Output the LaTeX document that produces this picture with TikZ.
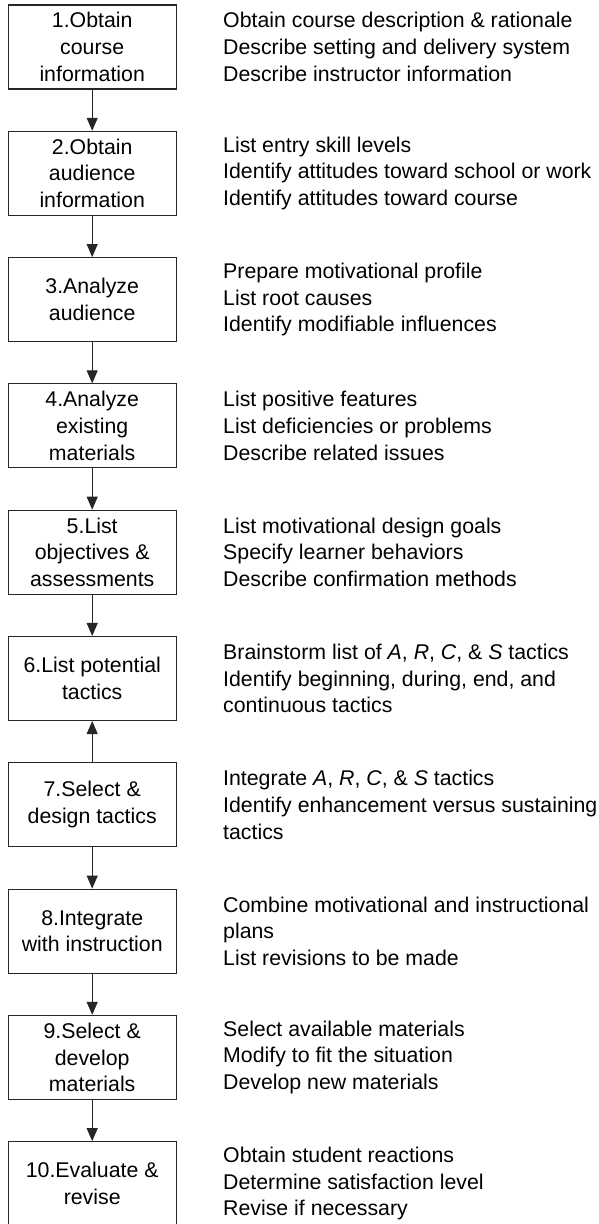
\documentclass[tikz,border=0pt]{standalone}
\usepackage{fontspec}
\setmainfont{Liberation Sans}
\usetikzlibrary{arrows.meta}
\begin{document}
\begin{tikzpicture}[x=1pt,y=-1pt,
  stepbox/.style={draw=black!85,line width=1.1pt,minimum width=167.7pt,minimum height=84pt,
    inner sep=0pt,align=center,font=\fontsize{21.3}{26.7}\selectfont},
  desc/.style={anchor=west,align=left,inner sep=0pt,font=\fontsize{21.3}{26.7}\selectfont},
  flow/.style={draw=black!85,line width=1.1pt,-{Triangle[length=13pt,width=11pt]}}]
\useasboundingbox (0,0) rectangle (599,1224);
\foreach \i in {1,...,10}{\coordinate (c\i) at (92.2,{47+(\i-1)*126.3});}
\node[stepbox] (b1) at (c1) {1.Obtain\\course\\information};
\node[stepbox] (b2) at (c2) {2.Obtain\\audience\\information};
\node[stepbox] (b3) at (c3) {3.Analyze\\audience};
\node[stepbox] (b4) at (c4) {4.Analyze\\existing\\materials};
\node[stepbox] (b5) at (c5) {5.List\\objectives \&\\assessments};
\node[stepbox] (b6) at (c6) {6.List potential\\tactics};
\node[stepbox] (b7) at (c7) {7.Select \&\\design tactics};
\node[stepbox] (b8) at (c8) {8.Integrate\\with instruction};
\node[stepbox] (b9) at (c9) {9.Select \&\\develop\\materials};
\node[stepbox] (b10) at (c10) {10.Evaluate \&\\revise};
\foreach \i in {1,...,10}{\coordinate (t\i) at (223,{47+(\i-1)*126.3});}
\node[desc] (d1) at (t1) {Obtain course description \& rationale\\Describe setting and delivery system\\Describe instructor information};
\node[desc] (d2) at (t2) {List entry skill levels\\Identify attitudes toward school or work\\Identify attitudes toward course};
\node[desc] (d3) at (t3) {Prepare motivational profile\\List root causes\\Identify modifiable influences};
\node[desc] (d4) at (t4) {List positive features\\List deficiencies or problems\\Describe related issues};
\node[desc] (d5) at (t5) {List motivational design goals\\Specify learner behaviors\\Describe confirmation methods};
\node[desc] (d6) at (t6) {Brainstorm list of \textit{A}, \textit{R}, \textit{C}, \& \textit{S} tactics\\Identify beginning, during, end, and\\continuous tactics};
\node[desc] (d7) at (t7) {Integrate \textit{A}, \textit{R}, \textit{C}, \& \textit{S} tactics\\Identify enhancement versus sustaining\\tactics};
\node[desc] (d8) at (t8) {Combine motivational and instructional\\plans\\List revisions to be made};
\node[desc] (d9) at (t9) {Select available materials\\Modify to fit the situation\\Develop new materials};
\node[desc] (d10) at (t10) {Obtain student reactions\\Determine satisfaction level\\Revise if necessary};
\draw[flow] (b1) -- (b2);
\draw[flow] (b2) -- (b3);
\draw[flow] (b3) -- (b4);
\draw[flow] (b4) -- (b5);
\draw[flow] (b5) -- (b6);
\draw[flow] (b7) -- (b6);
\draw[flow] (b7) -- (b8);
\draw[flow] (b8) -- (b9);
\draw[flow] (b9) -- (b10);
\end{tikzpicture}
\end{document}
